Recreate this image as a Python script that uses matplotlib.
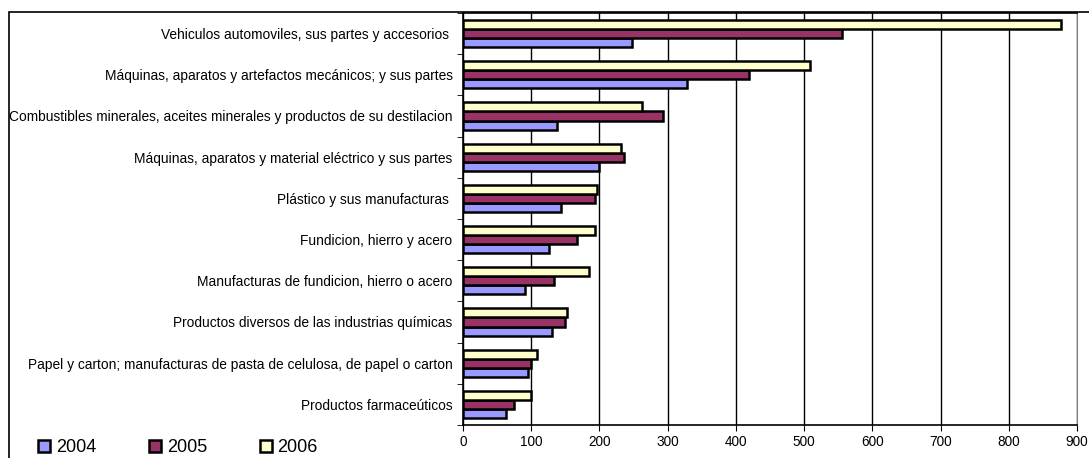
import matplotlib.pyplot as plt
import numpy as np
from matplotlib.lines import Line2D
from matplotlib.patches import Rectangle

plt.rcParams['font.family'] = ['Liberation Sans', 'DejaVu Sans']

categorias = [
    "Vehiculos automoviles, sus partes y accesorios ",
    "Máquinas, aparatos y artefactos mecánicos; y sus partes",
    "Combustibles minerales, aceites minerales y productos de su destilacion",
    "Máquinas, aparatos y material eléctrico y sus partes",
    "Plástico y sus manufacturas ",
    "Fundicion, hierro y acero",
    "Manufacturas de fundicion, hierro o acero",
    "Productos diversos de las industrias químicas",
    "Papel y carton; manufacturas de pasta de celulosa, de papel o carton",
    "Productos farmaceúticos",
]
anios = ["2004", "2005", "2006"]
v2004 = [247, 329, 138, 199, 143, 126, 91, 130, 95, 63]
v2005 = [555, 419, 293, 236, 193, 167, 134, 150, 99, 75]
v2006 = [876, 509, 262, 232, 196, 193, 184, 153, 108, 99]
colores = ["#9999FF", "#993366", "#FFFFCC"]

fig = plt.figure(figsize=(10.89, 4.58), dpi=100)
ax = fig.add_axes([463/1089, 33/458, (1077-463)/1089, (425-13)/458])

n = len(categorias)
y = np.arange(n)[::-1].astype(float)
h = 0.22
series = [v2004, v2005, v2006]
for i, (vals, c) in enumerate(zip(series, colores)):
    ax.barh(y + (i - 1) * h, vals, height=h, color=c, edgecolor="black",
            linewidth=1.8, zorder=3)

ax.set_xlim(0, 900)
ax.set_ylim(-0.5, n - 0.5)
ax.set_xticks(np.arange(0, 901, 100))
ax.tick_params(axis="x", labelsize=9.8, length=4, direction="out", pad=3)
ax.xaxis.grid(True, color="black", linewidth=1, zorder=0)

# category labels, with ticks on the category boundaries
ax.set_yticks(y)
ax.set_yticklabels(categorias, fontsize=9.9)
ax.tick_params(axis="y", length=0, pad=7.5)
ax.set_yticks(np.arange(n + 1) - 0.5, minor=True)
ax.tick_params(axis="y", which="minor", length=4, direction="out")

for s in ["left", "bottom", "top"]:
    ax.spines[s].set_color("black")
    ax.spines[s].set_linewidth(1.2)
ax.spines["right"].set_color("#808080")

# outer chart border
fig.patches.append(Rectangle((9/1089, -0.1), 1.2, 1 - 12/458 + 0.1,
                             transform=fig.transFigure, fill=False,
                             edgecolor="black", linewidth=1.2))

handles = [Line2D([], [], marker="s", linestyle="none", markersize=8,
                  markerfacecolor=c, markeredgecolor="black", markeredgewidth=1.8)
           for c in colores]
fig.legend(handles, anios, loc="lower left", bbox_to_anchor=(0.02, -0.032),
           ncol=3, frameon=False, fontsize=13, handlelength=0.7,
           handletextpad=0.3, columnspacing=2.9)

plt.savefig("out.png", dpi=100)
